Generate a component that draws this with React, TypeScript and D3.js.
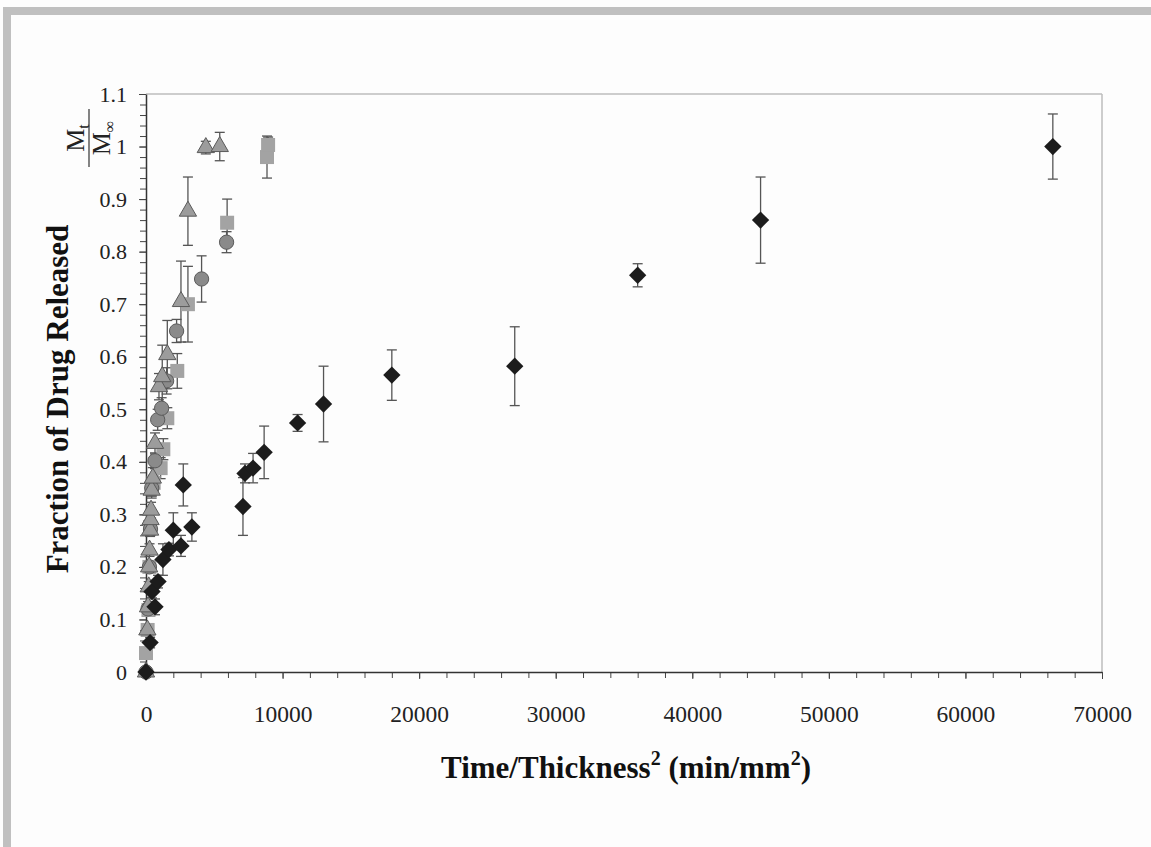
import * as d3 from 'd3';
import React, { useEffect, useRef } from 'react';

// Black diamonds
const blackX = [0, 300, 440, 660, 880, 1240, 1680, 2000, 2560, 2730, 3360, 7100, 7250, 7840, 8650, 11100, 13000, 18000, 27000, 36000, 45000, 66400];
const blackY = [0, 0.056, 0.153, 0.124, 0.172, 0.214, 0.233, 0.27, 0.24, 0.356, 0.276, 0.315, 0.378, 0.388, 0.418, 0.474, 0.51, 0.565, 0.582, 0.755, 0.86, 1.0];
const blackErr = [0.005, 0.01, 0.012, 0.015, 0.012, 0.03, 0.012, 0.033, 0.02, 0.04, 0.027, 0.055, 0.018, 0.028, 0.05, 0.016, 0.072, 0.048, 0.075, 0.022, 0.082, 0.062];

// Gray triangles
const triX = [0, 100, 150, 200, 230, 260, 300, 330, 370, 415, 500, 658, 950, 1190, 1560, 2560, 3070, 4380, 5400];
const triY = [0, 0.08, 0.124, 0.162, 0.2, 0.232, 0.27, 0.29, 0.308, 0.346, 0.369, 0.435, 0.543, 0.562, 0.604, 0.705, 0.877, 0.998, 1.0];
const triErr = [0, 0.008, 0.01, 0.01, 0.01, 0.012, 0.012, 0.012, 0.015, 0.015, 0.02, 0.02, 0.025, 0.06, 0.065, 0.077, 0.065, 0.012, 0.027];

// Gray circles
const circX = [0, 150, 250, 330, 420, 658, 855, 1145, 1510, 2240, 4070, 5900];
const circY = [0, 0.12, 0.2, 0.272, 0.35, 0.402, 0.48, 0.502, 0.554, 0.649, 0.748, 0.818];
const circErr = [0, 0.008, 0.01, 0.012, 0.015, 0.015, 0.02, 0.02, 0.025, 0.022, 0.044, 0.02];

// Light gray squares
const sqX = [0, 120, 180, 250, 300, 420, 560, 1070, 1270, 1560, 2290, 3070, 5940, 8860, 8940];
const sqY = [0.036, 0.08, 0.118, 0.2, 0.276, 0.35, 0.36, 0.388, 0.424, 0.483, 0.573, 0.70, 0.855, 0.98, 1.003];
const sqErr = [0.005, 0.008, 0.01, 0.01, 0.012, 0.015, 0.015, 0.02, 0.02, 0.02, 0.033, 0.072, 0.045, 0.04, 0.015];

const xTicks = [0, 10000, 20000, 30000, 40000, 50000, 60000, 70000];
const yTicks = [0, 0.1, 0.2, 0.3, 0.4, 0.5, 0.6, 0.7, 0.8, 0.9, 1, 1.1];

const App = () => {
  const ref = useRef<SVGSVGElement>(null);

  useEffect(() => {
    const svg = d3.select(ref.current);
    svg.selectAll('*').remove();

    const margin = { top: 94, right: 49, bottom: 175, left: 146 };
    const width = 1151 - margin.left - margin.right;
    const height = 847 - margin.top - margin.bottom;
    const serif = '"Liberation Serif", "Times New Roman", serif';

    // gray frame
    svg.append('rect').attr('x', 3).attr('y', 7).attr('width', 1148).attr('height', 8).attr('fill', '#c0c0c0');
    svg.append('rect').attr('x', 3).attr('y', 7).attr('width', 8).attr('height', 840).attr('fill', '#c0c0c0');

    const g = svg.append('g').attr('transform', `translate(${margin.left}, ${margin.top})`);

    const x = d3.scaleLinear().domain([0, 70000]).range([0, width]);
    const y = d3.scaleLinear().domain([0, 1.1]).range([height, 0]);

    // plot border (top, right)
    g.append('line').attr('x1', 0).attr('x2', width).attr('y1', 0).attr('y2', 0).attr('stroke', '#bdbdbd').attr('stroke-width', 1.5);
    g.append('line').attr('x1', width).attr('x2', width).attr('y1', 0).attr('y2', height).attr('stroke', '#bdbdbd').attr('stroke-width', 1.5);

    // minor ticks
    g.append('g')
      .attr('transform', `translate(0, ${height})`)
      .call(d3.axisBottom(x).tickValues(d3.range(0, 70001, 2000)).tickSize(6).tickFormat(() => ''))
      .call((a) => a.select('.domain').remove())
      .selectAll('line').attr('stroke', '#444');
    g.append('g')
      .call(d3.axisLeft(y).tickValues(d3.range(0, 56).map((i) => i * 0.02)).tickSize(6).tickFormat(() => ''))
      .call((a) => a.select('.domain').remove())
      .selectAll('line').attr('stroke', '#444');

    // axes with labels
    const xAxis = g.append('g')
      .attr('transform', `translate(0, ${height})`)
      .call(d3.axisBottom(x).tickValues(xTicks).tickSize(7).tickPadding(26).tickFormat((d) => `${d}`).tickSizeOuter(0));
    const yAxis = g.append('g')
      .call(d3.axisLeft(y).tickValues(yTicks).tickSize(7).tickPadding(12).tickFormat((d) => `${d}`).tickSizeOuter(0));
    [xAxis, yAxis].forEach((a) => {
      a.attr('font-family', serif);
      a.select('.domain').attr('stroke', '#333').attr('stroke-width', 1.5);
      a.selectAll('line').attr('stroke', '#444');
      a.selectAll('text')
        .attr('font-family', serif)
        .attr('fill', '#222');
    });
    xAxis.selectAll('text').attr('font-size', 23.5);
    yAxis.selectAll('text').attr('font-size', 22);

    const errColor = '#555';
    const drawErr = (xs: number[], ys: number[], es: number[]) => {
      const data = xs.map((v, i) => ({ x: v, y: ys[i], e: es[i] })).filter((d) => d.e > 0);
      const eg = g.append('g').attr('stroke', errColor).attr('stroke-width', 1.3);
      data.forEach((d) => {
        const cx = x(d.x);
        eg.append('line').attr('x1', cx).attr('x2', cx).attr('y1', y(d.y - d.e)).attr('y2', y(d.y + d.e));
        eg.append('line').attr('x1', cx - 5).attr('x2', cx + 5).attr('y1', y(d.y - d.e)).attr('y2', y(d.y - d.e));
        eg.append('line').attr('x1', cx - 5).attr('x2', cx + 5).attr('y1', y(d.y + d.e)).attr('y2', y(d.y + d.e));
      });
    };

    const drawPts = (xs: number[], ys: number[], path: string, fill: string, stroke: string, rotate = 0) => {
      g.append('g')
        .selectAll('path')
        .data(xs.map((v, i) => ({ x: v, y: ys[i] })))
        .join('path')
        .attr('d', path)
        .attr('transform', (d) => `translate(${x(d.x)}, ${y(d.y)}) rotate(${rotate})`)
        .attr('fill', fill)
        .attr('stroke', stroke)
        .attr('stroke-width', stroke === 'none' ? 0 : 1);
    };

    drawErr(sqX, sqY, sqErr);
    drawErr(circX, circY, circErr);
    drawErr(triX, triY, triErr);
    drawErr(blackX, blackY, blackErr);

    drawPts(sqX, sqY, d3.symbol(d3.symbolSquare, 196)()!, '#a3a3a3', 'none');
    drawPts(circX, circY, d3.symbol(d3.symbolCircle, 160)()!, '#8a8a8a', '#5a5a5a');
    drawPts(triX, triY, d3.symbol(d3.symbolTriangle, 130)()!, '#9c9c9c', '#5a5a5a');
    drawPts(blackX, blackY, d3.symbol(d3.symbolSquare, 150)()!, '#1c1c1c', 'none', 45);

    // axis titles
    const xt = svg.append('text')
      .attr('x', 626).attr('y', 778)
      .attr('text-anchor', 'middle')
      .attr('font-family', serif).attr('font-weight', 'bold').attr('font-size', 31).attr('fill', '#111');
    xt.append('tspan').text('Time/Thickness');
    xt.append('tspan').attr('dy', -13).attr('font-size', 20).text('2');
    xt.append('tspan').attr('dy', 13).text(' (min/mm');
    xt.append('tspan').attr('dy', -13).attr('font-size', 20).text('2');
    xt.append('tspan').attr('dy', 13).text(')');

    svg.append('text')
      .attr('transform', 'translate(68, 399) rotate(-90)')
      .attr('text-anchor', 'middle')
      .attr('font-family', serif).attr('font-weight', 'bold').attr('font-size', 31).attr('fill', '#111')
      .text('Fraction of Drug Released');

    // Mt / M∞ fraction
    const fr = svg.append('g').attr('transform', 'translate(89, 138) rotate(-90)')
      .attr('font-family', serif).attr('font-size', 26).attr('fill', '#222');
    const num = fr.append('text').attr('x', 0).attr('y', -5).attr('text-anchor', 'middle');
    num.append('tspan').text('M');
    num.append('tspan').attr('dy', 5).attr('font-size', 16).text('t');
    fr.append('line').attr('x1', -29).attr('x2', 29).attr('y1', 0).attr('y2', 0).attr('stroke', '#333').attr('stroke-width', 1.2);
    const den = fr.append('text').attr('x', 0).attr('y', 21).attr('text-anchor', 'middle');
    den.append('tspan').text('M');
    den.append('tspan').attr('dy', 5).attr('font-size', 16).text('∞');
  }, []);

  return (
    <svg
      ref={ref}
      width={1151}
      height={847}
      style={{ position: 'absolute', left: 0, top: 0, background: '#fdfdfd' }}
    />
  );
};

export default App;
